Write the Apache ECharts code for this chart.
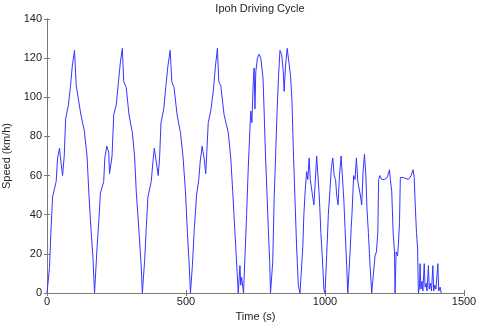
<!DOCTYPE html>
<html>
<head>
<meta charset="utf-8">
<script src="https://cdn.jsdelivr.net/npm/echarts@6/dist/echarts.min.js"></script>
<style>
  html, body { margin: 0; padding: 0; background: #fff; }
  #chart { width: 480px; height: 323px; }
</style>
</head>
<body>
<div id="chart"></div>
<script>
// time (s) and speed (km/h)
const timeSec = [
  0, 9, 14, 20, 33, 38, 45, 50, 56, 62, 67, 77, 84, 91, 99, 105, 112, 122, 134, 144,
  151, 158, 165, 171, 175, 180, 186, 192, 204, 208, 215, 222, 225, 230, 234, 240, 249, 257, 264, 271,
  276, 285, 295, 307, 315, 321, 331, 338, 343, 346, 351, 357, 363, 375, 381, 386, 393, 400, 405, 410,
  420, 427, 435, 443, 449, 457, 468, 480, 489, 498, 505, 511, 516, 519, 523, 530, 538, 546, 551, 558,
  565, 571, 576, 580, 589, 598, 606, 613, 618, 625, 637, 652, 661, 668, 676, 683, 688, 694, 697, 700,
  707, 712, 718, 724, 730, 733, 737, 742, 745, 748, 751, 757, 763, 769, 777, 781, 786, 791, 796, 801,
  804, 807, 812, 817, 822, 828, 833, 838, 844, 850, 853, 858, 864, 870, 876, 881, 886, 892, 898, 904,
  910, 915, 920, 924, 929, 934, 938, 943, 947, 952, 955, 960, 965, 970, 975, 980, 985, 990, 996, 1000,
  1006, 1012, 1018, 1023, 1028, 1033, 1038, 1042, 1047, 1052, 1058, 1062, 1068, 1072, 1078, 1082, 1086, 1091, 1094, 1097,
  1100, 1103, 1108, 1113, 1118, 1124, 1127, 1132, 1137, 1142, 1147, 1151, 1156, 1162, 1168, 1175, 1180, 1185, 1190, 1193,
  1197, 1204, 1214, 1224, 1229, 1232, 1235, 1240, 1245, 1250, 1252, 1256, 1261, 1264, 1268, 1271, 1276, 1281, 1288, 1300,
  1310, 1315, 1317, 1321, 1324, 1329, 1333, 1336, 1340, 1342, 1345, 1349, 1352, 1357, 1360, 1364, 1367, 1372, 1375, 1379,
  1383, 1388, 1391, 1395, 1399, 1406, 1409, 1414, 1418
]
const speedKmh = [
  0, 13, 31, 49, 57, 69, 74, 67, 60, 70, 89, 96, 105, 116, 124, 106, 105, 91, 83, 70,
  50, 33, 19, 0, 0, 23, 36, 51, 57, 69, 75, 72, 61, 60, 70, 91, 96, 108, 118, 125,
  108, 105, 91, 82, 70, 52, 31, 16, 0, 0, 16, 33, 49, 57, 67, 74, 67, 60, 69, 87,
  94, 105, 116, 124, 108, 105, 91, 82, 70, 52, 31, 16, 0, 0, 14, 33, 50, 58, 67, 75,
  69, 61, 61, 87, 93, 103, 116, 125, 108, 106, 91, 82, 69, 52, 31, 13, 0, 14, 4, 8,
  0, 18, 40, 64, 84, 93, 87, 108, 115, 94, 113, 120, 122, 120, 110, 93, 70, 52, 33, 16,
  0, 0, 16, 48, 69, 94, 111, 124, 122, 113, 103, 116, 125, 124, 111, 99, 74, 48, 23, 4,
  0, 0, 23, 40, 53, 62, 58, 69, 58, 57, 50, 45, 57, 70, 70, 48, 31, 19, 2, 0,
  19, 40, 53, 64, 69, 60, 58, 50, 45, 60, 70, 69, 47, 33, 14, 0, 0, 23, 33, 40,
  50, 60, 58, 69, 57, 57, 50, 45, 62, 71, 60, 43, 31, 14, 0, 0, 19, 21, 31, 58,
  60, 58, 58, 59, 60, 63, 58, 52, 31, 21, 0, 21, 19, 25, 36, 59, 60, 59, 58, 58,
  60, 59, 63, 59, 47, 31, 23, 0, 3, 15, 2, 6, 1, 15, 3, 5, 1, 14, 2, 5,
  1, 14, 1, 4, 2, 15, 1, 3, 0
]

const chart = echarts.init(document.getElementById('chart'))

const fontFamily = 'Liberation Sans, Arial, sans-serif'
const lineGray = '#7a7a7a'

const xTicksOnly = {
  type: 'value',
  min: 0,
  max: 1500,
  interval: 500,
  axisLine: { show: true, lineStyle: { color: lineGray } },
  axisTick: { show: true, inside: true, length: 3, lineStyle: { color: lineGray } },
  splitLine: { show: false }
}
const yTicksOnly = {
  type: 'value',
  min: 0,
  max: 140,
  interval: 20,
  axisLine: { show: true, lineStyle: { color: lineGray } },
  axisTick: { show: true, inside: true, length: 3, lineStyle: { color: lineGray } },
  splitLine: { show: false }
}

chart.setOption({
  animation: false,
  title: {
    text: 'Ipoh Driving Cycle',
    left: 255,
    textAlign: 'center',
    top: -2,
    textStyle: { fontSize: 11, fontWeight: 'normal', color: '#222', fontFamily }
  },
  grid: { left: 47, right: 16, top: 19, bottom: 30, containLabel: false, outerBoundsMode: 'none' },
  xAxis: [
    {
      ...xTicksOnly,
      position: 'bottom',
      name: 'Time (s)',
      nameLocation: 'middle',
      nameGap: 17,
      nameTextStyle: { fontSize: 11, color: '#222', fontFamily },
      axisLabel: { fontSize: 11, color: '#222', margin: 3, fontFamily, formatter: v => String(v) }
    },
    { ...xTicksOnly, position: 'top', axisLabel: { show: false } }
  ],
  yAxis: [
    {
      ...yTicksOnly,
      position: 'left',
      name: 'Speed (km/h)',
      nameLocation: 'middle',
      nameGap: 29,
      nameTextStyle: { fontSize: 11, color: '#222', fontFamily },
      axisLabel: { fontSize: 11, color: '#222', margin: 5, fontFamily }
    },
    { ...yTicksOnly, position: 'right', axisLabel: { show: false } }
  ],
  series: [
    {
      type: 'line',
      xAxisIndex: 0,
      yAxisIndex: 0,
      showSymbol: false,
      symbol: 'none',
      lineStyle: { color: '#3535ff', width: 1 },
      data: timeSec.map((t, i) => [t, speedKmh[i]])
    }
  ]
})
</script>
</body>
</html>
